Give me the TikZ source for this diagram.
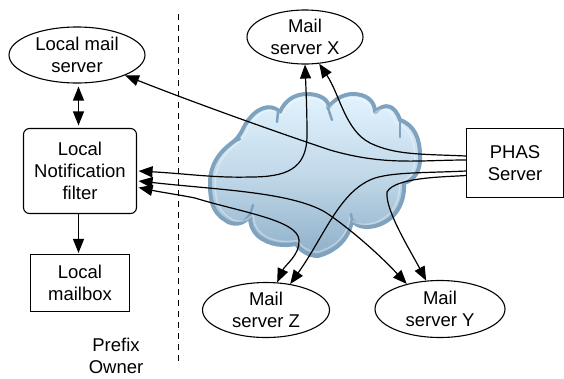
\documentclass[tikz,border=0pt]{standalone}
\usepackage{fontspec}
\setmainfont{Liberation Sans}
\usetikzlibrary{shapes.geometric,arrows.meta,calc}
\definecolor{cloudedge}{HTML}{7FA3BF}
\definecolor{cloudtop}{HTML}{E2F3FE}
\definecolor{cloudbot}{HTML}{8FB0C9}
\tikzset{
  lbl/.style={font=\fontsize{18.5}{22}\selectfont,align=center,text=black},
  ell/.style={lbl,draw=black,line width=1.1pt,ellipse,inner sep=0pt,fill=white},
  box/.style={lbl,draw=black,line width=1.1pt,inner sep=0pt,fill=white},
  conn/.style={draw=black,line width=1.2pt,-{Triangle[length=14pt,width=11pt]}},
  conntwo/.style={draw=black,line width=1.2pt,{Triangle[length=14pt,width=11pt]}-{Triangle[length=14pt,width=11pt]}},
}
\newcommand{\cloudpath}{
  (210,183) .. controls (210,160) and (225,148) .. (233,142)
  .. controls (238,138) and (240,135) .. (245,125)
  .. controls (255,108) and (270,102) .. (280,112)
  .. controls (285,100) and (295,94) .. (307,94)
  .. controls (320,94) and (330,100) .. (328,108)
  .. controls (335,98) and (345,94) .. (353,94)
  .. controls (365,94) and (375,100) .. (375,112)
  .. controls (385,102) and (395,105) .. (400,120)
  .. controls (415,125) and (420,140) .. (420,155)
  .. controls (421,170) and (415,180) .. (404,183)
  .. controls (405,200) and (398,215) .. (385,222)
  .. controls (375,228) and (358,230) .. (352,220)
  .. controls (350,235) and (340,250) .. (318,256)
  .. controls (308,256) and (300,250) .. (296,244)
  .. controls (285,246) and (270,246) .. (258,236)
  .. controls (252,230) and (250,225) .. (250,215)
  .. controls (245,225) and (232,226) .. (225,220)
  .. controls (212,212) and (210,200) .. (210,183) -- cycle
}
\begin{document}
\begin{tikzpicture}[x=1pt,y=-1pt]
\useasboundingbox (0,0) rectangle (564,378);
% cloud
\draw[line width=4pt,draw=cloudedge,line join=round,top color=cloudtop,bottom color=cloudbot,middle color=cloudtop!60!cloudbot] \cloudpath;
\begin{scope}[shift={(315,175)},scale=0.95,shift={(-315,-175)}]
\draw[line width=1.5pt,draw=white,opacity=0.35] \cloudpath;
\end{scope}
\draw[line width=2.5pt,draw=cloudedge,line cap=round] (278,112) -- (277,122);
\draw[line width=2.5pt,draw=cloudedge,line cap=round] (328,108) -- (332,120);
\draw[line width=2.5pt,draw=cloudedge,line cap=round] (400,120) -- (400,137);
\draw[line width=2.5pt,draw=cloudedge,line cap=round] (233,142) -- (240,139);
\draw[line width=2.5pt,draw=cloudedge,line cap=round] (352,220) -- (351,214);
\draw[line width=2.5pt,draw=cloudedge,line cap=round] (250,215) -- (253,205);
% nodes
\node[ell,minimum width=136pt,minimum height=56pt] (lms) at (77,55) {Local mail\\server};
\node[ell,minimum width=116pt,minimum height=54pt] (msx) at (305,37) {Mail\\server X};
\node[ell,minimum width=127pt,minimum height=55pt] (msz) at (266,310) {Mail\\server Z};
\node[ell,minimum width=130pt,minimum height=57pt] (msy) at (440,309) {Mail\\server Y};
\node[box,rounded corners=6pt,minimum width=113pt,minimum height=85pt] (filter) at (80,171) {Local\\Notification\\filter};
\node[box,minimum width=99pt,minimum height=57pt] (mbox) at (80,283) {Local\\mailbox};
\node[box,minimum width=97pt,minimum height=69pt] (phas) at (515,163) {PHAS\\Server};
\node[lbl] (owner) at (116,356) {Prefix\\Owner};
\coordinate (dtop) at (178,14);
\coordinate (dbot) at (178,365);
\draw[black,line width=0.9pt,dash pattern=on 6pt off 5pt] (dtop) -- (dbot);
% connectors
\draw[conntwo] ($(lms.south)+(1.5,3)$) -- ($(filter.north)+(-1.5,-2.5)$);
\draw[conn] ($(filter.south)+(-1.5,0)$) -- ($(mbox.north)+(-1.5,-1)$);
\draw[conn] ($(phas.west)+(0,-3)$) .. controls (420,160) and (385,166) .. (330,150)
  .. controls (285,135) and (200,105) .. (lms.-23);
\draw[conntwo] ($(filter.east)+(1.5,0)$) .. controls (190,174) and (215,178) .. (250,177)
  .. controls (285,177) and (307,170) .. (307,135) .. controls (307,110) and (306,90) .. (msx.south);
\draw[conn] ($(phas.west)+(0,-7)$) .. controls (420,154) and (395,155) .. (370,143)
  .. controls (345,130) and (340,95) .. (msx.-62);
\draw[conn] ($(phas.west)+(0,8)$) .. controls (425,173) and (395,172) .. (375,178)
  .. controls (340,190) and (325,235) .. (msz.47);
\draw[conn] ($(phas.west)+(0,12.5)$) .. controls (445,177) and (395,177) .. (387,192)
  .. controls (385,210) and (410,250) .. (msy.116);
\draw[conntwo] (msy.143) .. controls (375,250) and (345,225) .. (325,212)
  .. controls (290,192) and (220,190) .. ($(filter.east)+(1.5,10)$);
\draw[conntwo] (msz.68) .. controls (285,265) and (300,255) .. (299,240)
  .. controls (298,220) and (240,212) .. (195,198) .. controls (180,195) and (160,192) .. ($(filter.east)+(1.5,16.5)$);
\end{tikzpicture}
\end{document}
